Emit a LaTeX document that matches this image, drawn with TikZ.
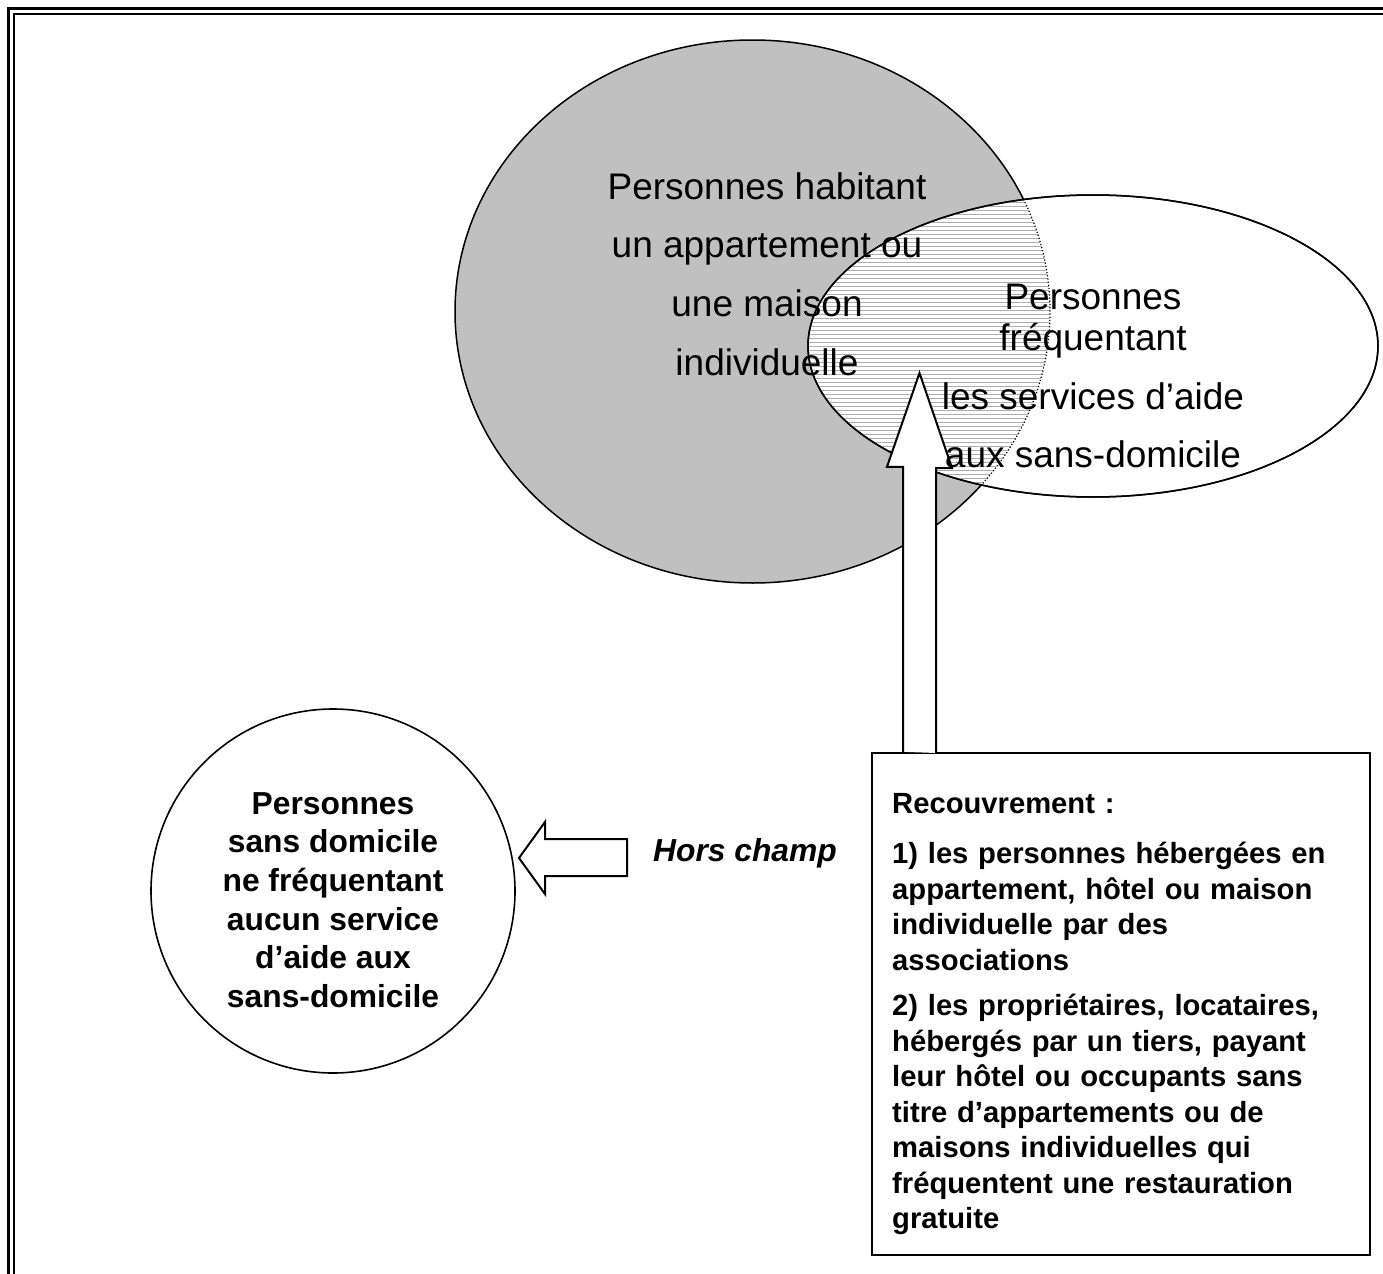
\documentclass[tikz,border=0pt]{standalone}
\usepackage{fontspec}
\setmainfont{Liberation Sans}
\usetikzlibrary{positioning,calc}

\definecolor{grisvenn}{HTML}{C0C0C0}

\tikzset{
  contour/.style={draw=black, line width=0.75pt},
  hachure/.style={draw=black!32, line width=0.45pt},
  fleche bloc/.style={draw=black, fill=white, line width=1pt, line join=miter},
  texte venn/.style={align=center, inner sep=0pt, font=\fontsize{18.5}{29.3}\selectfont},
  texte gras/.style={align=center, inner sep=0pt, font=\bfseries\fontsize{15.9}{19.3}\selectfont},
  cadre/.style={draw=black, line width=1.2pt, minimum width=249pt, minimum height=251pt},
  texte cadre/.style={align=left, text width=228pt, inner sep=0pt,
    font=\bfseries\fontsize{14.6}{17.75}\selectfont},
}

\begin{document}
\begin{tikzpicture}[x=0.5pt, y=-0.5pt]
  \useasboundingbox (0,0) rectangle (1383,1274);

  % double filet du cadre
  \draw[line width=1.65pt] (8.3,1274) -- (8.3,8.3) -- (1383,8.3);
  \draw[line width=1.15pt] (13.8,1274) -- (13.8,13.8) -- (1383,13.8);

  \coordinate (habitat) at (752.5,311.5);
  \coordinate (services) at (1093,346);
  \coordinate (cible) at (919.5,373);
  \coordinate (pointe) at (519,858);

  % les deux ensembles
  \draw[contour, fill=grisvenn] (habitat) ellipse [x radius=148.75pt, y radius=135.75pt];
  \draw[contour, fill=white] (services) ellipse [x radius=142.5pt, y radius=75.5pt];
  \begin{scope}
    \clip (habitat) ellipse [x radius=148.75pt, y radius=135.75pt];
    \clip (services) ellipse [x radius=142.5pt, y radius=75.5pt];
    \foreach \y in {194,198,...,500}
      \draw[hachure] (800,\y) -- (1100,\y);
  \end{scope}
  \begin{scope}
    \clip (services) ellipse [x radius=142.5pt, y radius=75.5pt];
    \draw[line width=0.6pt, dash pattern=on 0.6pt off 1pt]
      (habitat) ellipse [x radius=148.75pt, y radius=135.75pt];
  \end{scope}
  \draw[contour] (services) ellipse [x radius=142.5pt, y radius=75.5pt];

  % encadre du recouvrement
  \node[cadre] (recouv) at (1121,1004) {};
  \node[texte cadre, anchor=north west] (recouv-txt) at ($(recouv.north west)+(21,41)$)
    {Recouvrement :\\[7.5pt]
    1) les personnes hébergées en\\
    appartement, hôtel ou maison\\
    individuelle par des\\
    associations\\[5pt]
    2) les propriétaires, locataires,\\
    hébergés par un tiers, payant\\
    leur hôtel ou occupants sans\\
    titre d’appartements ou de\\
    maisons individuelles qui\\
    fréquentent une restauration\\
    gratuite};

  \draw[fleche bloc] (cible |- recouv.north) ++(-16.5,0) -- ++(0,-285) -- ++(-16,0)
    -- (cible) -- ++(32.5,95) -- ++(-16,0) -- ++(0,285);

  \node[texte venn] (habitat-txt) at (767,274) {Personnes habitant\\un appartement ou\\une maison\\individuelle};
  \node[texte venn] (services-txt) at (1093,376) {Personnes\\[-8.5pt]fréquentant\\les services d’aide\\aux sans-domicile};

  % hors champ
  \node[draw, circle, line width=0.8pt, minimum size=182pt] (horsdom) at (333,891) {};
  \node[texte gras] (horsdom-txt) at (333,900)
    {Personnes\\sans domicile\\ne fréquentant\\aucun service\\d’aide aux\\sans-domicile};
  \node[texte gras, font=\bfseries\itshape\fontsize{15.9}{19}\selectfont] (horschamp) at (745,853) {Hors champ};
  \draw[fleche bloc] (pointe) -- ++(26,-36) -- ++(0,17) -- ++(82,0) -- ++(0,37)
    -- ++(-82,0) -- ++(0,18) -- cycle;
\end{tikzpicture}
\end{document}
